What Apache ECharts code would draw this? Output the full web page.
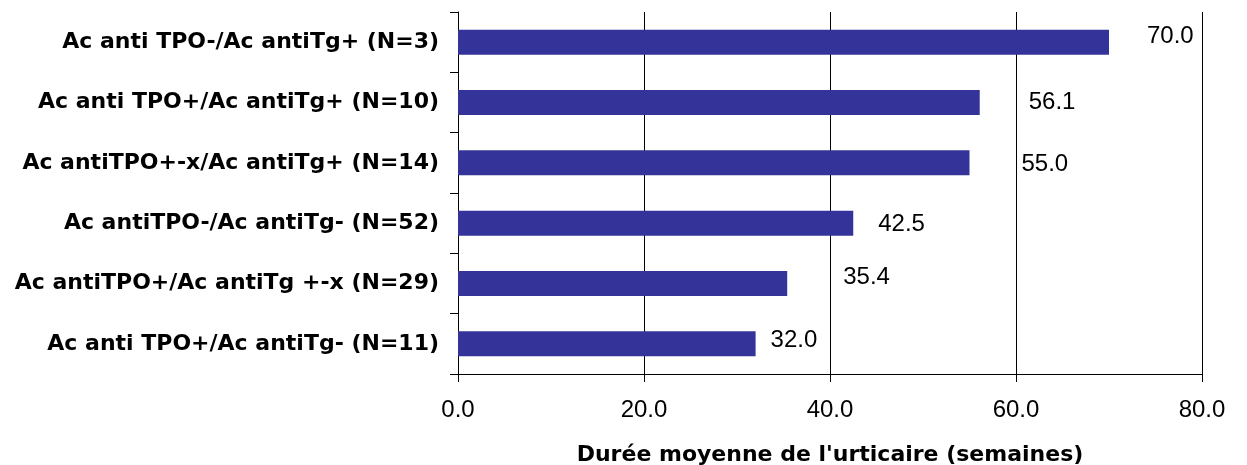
<!DOCTYPE html>
<html>
<head>
<meta charset="utf-8">
<script src="https://cdn.jsdelivr.net/npm/echarts@6/dist/echarts.min.js"></script>
<style>
html,body{margin:0;padding:0;background:#fff;}
#chart{width:1247px;height:465px;}
</style>
</head>
<body>
<div id="chart"></div>
<script>
// ---- data ----
const categories = [
  'Ac anti TPO-/Ac antiTg+ (N=3)',
  'Ac anti TPO+/Ac antiTg+ (N=10)',
  'Ac antiTPO+-x/Ac antiTg+ (N=14)',
  'Ac antiTPO-/Ac antiTg- (N=52)',
  'Ac antiTPO+/Ac antiTg +-x (N=29)',
  'Ac anti TPO+/Ac antiTg- (N=11)'
];
const values = [70.0, 56.1, 55.0, 42.5, 35.4, 32.0];
const xTicks = [0, 20, 40, 60, 80];
const axisTitle = "Durée moyenne de l'urticaire (semaines)";

// ---- label nudges (style only: gap from bar end, vertical shift) ----
const labelGap = [38, 49, 52, 25, 56, 15];
const labelShift = [-6, 0, 2, 1, -6, -3];

const chart = echarts.init(document.getElementById('chart'), null, {renderer: 'canvas'});
const seriesData = values.map((v, i) => ({
  value: v,
  label: { distance: labelGap[i], offset: [0, labelShift[i]] }
}));

chart.setOption({
  animation: false,
  backgroundColor: '#ffffff',
  grid: { left: 458, right: 45, top: 12, bottom: 91, containLabel: false, outerBoundsMode: 'none' },
  xAxis: {
    type: 'value',
    min: xTicks[0],
    max: xTicks[xTicks.length - 1],
    interval: xTicks[1] - xTicks[0],
    axisLine: { show: true, lineStyle: { color: '#000', width: 1 } },
    axisTick: { show: true, length: 8, lineStyle: { color: '#000' } },
    splitLine: { show: true, lineStyle: { color: '#000', width: 1 } },
    axisLabel: {
      margin: 24,
      color: '#000',
      fontFamily: 'Liberation Sans, Arial, sans-serif',
      fontSize: 24,
      formatter: v => v.toFixed(1)
    },
    name: axisTitle,
    nameLocation: 'middle',
    nameGap: 70,
    nameTextStyle: {
      color: '#000',
      fontFamily: 'DejaVu Sans, sans-serif',
      fontWeight: 'bold',
      fontSize: 22
    }
  },
  yAxis: {
    type: 'category',
    inverse: true,
    data: categories,
    axisLine: { show: true, lineStyle: { color: '#000', width: 1 } },
    axisTick: { show: true, length: 8, alignWithLabel: false, lineStyle: { color: '#000' } },
    splitLine: { show: false },
    axisLabel: {
      margin: 19,
      color: '#000',
      fontFamily: 'DejaVu Sans, sans-serif',
      fontWeight: 'bold',
      fontSize: 22
    }
  },
  series: [{
    type: 'bar',
    data: seriesData,
    barWidth: 25,
    itemStyle: { color: '#333399' },
    label: {
      show: true,
      position: 'right',
      color: '#000',
      fontFamily: 'Liberation Sans, Arial, sans-serif',
      fontSize: 24,
      formatter: p => p.value.toFixed(1)
    }
  }]
});
</script>
</body>
</html>
